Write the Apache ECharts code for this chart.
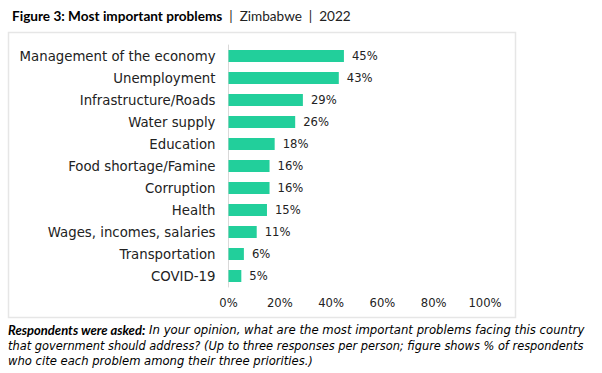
<!DOCTYPE html>
<html>
<head>
<meta charset="utf-8">
<script src="https://cdn.jsdelivr.net/npm/echarts@6/dist/echarts.min.js"></script>
<style>html,body{margin:0;padding:0;background:#fff}#c{width:602px;height:373px}</style>
</head>
<body>
<div id="c"></div>
<script>
const categories = ["Management of the economy","Unemployment","Infrastructure/Roads","Water supply","Education","Food shortage/Famine","Corruption","Health","Wages, incomes, salaries","Transportation","COVID-19"];
const values = [45,43,29,26,18,16,16,15,11,6,5];
const tickValues = [0,20,40,60,80,100];

const TF = "Lato";
const LF = "DejaVu Sans";
const chart = echarts.init(document.getElementById('c'), null, {renderer:'svg'});
chart.setOption({
  animation:false,
  textStyle:{fontFamily:LF},
  title:{
    left:7, top:4,
    text:"{b|Figure 3: Most important problems}{n|  |  Zimbabwe  |  2022}",
    textStyle:{
      rich:{
        b:{fontFamily:TF,fontWeight:'bold',fontSize:13.6,color:'#000'},
        n:{fontFamily:TF,fontWeight:'normal',fontSize:13.6,color:'#222'}
      }
    }
  },
  graphic:[
    {type:'rect',shape:{x:8.5,y:32.5,width:507,height:285},style:{fill:'none',stroke:'#e6e6e6',lineWidth:1.5},z:-1},
    {type:'text',x:8,y:330,style:{verticalAlign:'middle',text:"{b|Respondents were asked:}{i| In your opinion, what are the most important problems facing this country}",rich:{
      b:{fontFamily:TF,fontWeight:'bold',fontStyle:'italic',fontSize:13,fill:'#000'},
      i:{fontFamily:LF,fontStyle:'italic',fontSize:11.7,fill:'#000'}}}},
    {type:'text',x:8,y:346,style:{verticalAlign:'middle',text:"that government should address? (Up to three responses per person; figure shows % of respondents",fontFamily:LF,fontStyle:'italic',fontSize:11.4,fill:'#000'}},
    {type:'text',x:8,y:361,style:{verticalAlign:'middle',text:"who cite each problem among their three priorities.)",fontFamily:LF,fontStyle:'italic',fontSize:11.6,fill:'#000'}}
  ],
  grid:{left:228.5,right:117,top:45,bottom:86,containLabel:false},
  xAxis:{
    type:'value',min:0,max:100,interval:20,
    axisLine:{show:false},axisTick:{show:false},splitLine:{show:false},
    axisLabel:{formatter:v=>tickValues.includes(v)?v+'%':'',fontSize:11.6,color:'#222',margin:10,fontFamily:LF}
  },
  yAxis:{
    type:'category',data:categories,inverse:true,
    axisLine:{show:true,lineStyle:{color:'#d9d9d9',width:1}},
    axisTick:{show:false},
    axisLabel:{fontSize:13.3,color:'#222',margin:13,fontFamily:LF}
  },
  series:[{
    type:'bar',data:values,barWidth:12,
    itemStyle:{color:'#22CF9B'},
    label:{show:true,position:'right',distance:8,formatter:'{c}%',fontSize:11.6,color:'#222',fontFamily:LF}
  }]
});
</script>
</body>
</html>
